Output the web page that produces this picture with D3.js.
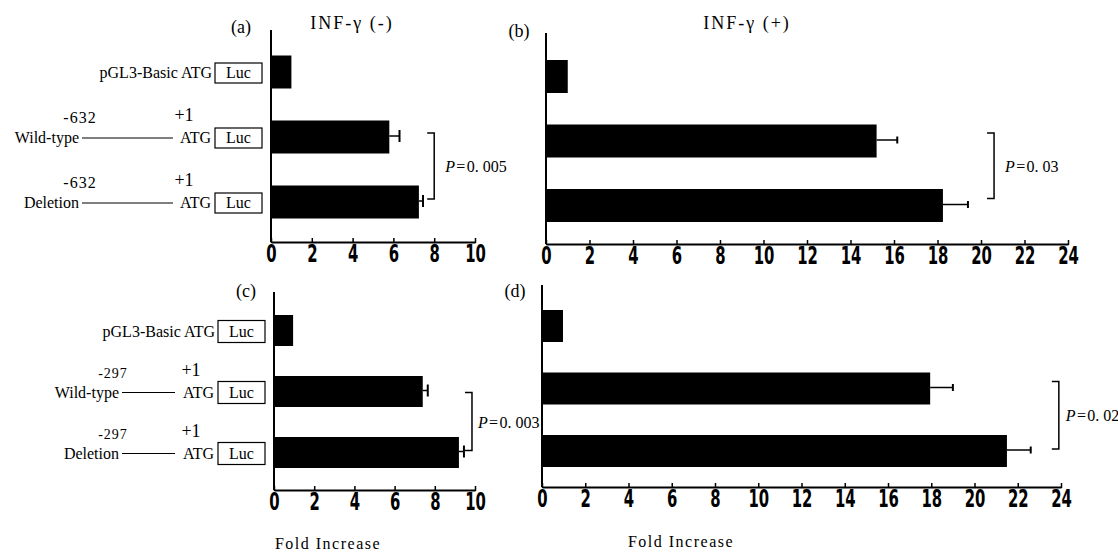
<!DOCTYPE html>
<meta charset="utf-8">
<script src="https://d3js.org/d3.v7.min.js"></script>
<style>
  body { margin: 0; background: #fff; }
  text { fill: #000; }
  .lbl { font-family: "Liberation Serif", "DejaVu Serif", serif; font-size: 16px; }
  .tick text { font-family: "Liberation Sans Narrow", "DejaVu Sans Condensed", sans-serif; font-weight: bold; font-size: 25px; }
</style>
<div id="chart"></div>
<script>

// constructs, shared by all four panels
var rows = ["pGL3-Basic", "Wild-type", "Deletion"];

// fold increase (bar) and error (+SD)
var valuesA = [1.0, 5.8, 7.25],  errorsA = [0, 0.5, 0.2];
var valuesB = [1.0, 15.2, 18.25], errorsB = [0, 0.95, 1.15];
var valuesC = [0.95, 7.4, 9.2],  errorsC = [0, 0.25, 0.25];
var valuesD = [0.97, 17.95, 21.5], errorsD = [0, 1.05, 1.1];

// tick labels
var ticksSmall = [0, 2, 4, 6, 8, 10];
var ticksLarge = [0, 2, 4, 6, 8, 10, 12, 14, 16, 18, 20, 22, 24];

// p-values between wild-type and deletion
var pValues = ["0. 005", "0. 03", "0. 003", "0. 02"];
var bracketAt = [8.0, 20.6, 9.85, 23.9];

// promoter start positions for the two construct sets
var promoterStart = ["-632", "-297"];

var svg = d3.select("#chart").append("svg")
    .attr("width", 1118)
    .attr("height", 552);

// panel layouts (pixel positions of axes)
var panels = [
  {tag: "(a)", values: valuesA, errors: errorsA, max: 10, ticks: ticksSmall, xr: [271, 475], top: 30, base: 242,
   yr: [72, 202], barH: 33, cap: 12, bracket: bracketAt[0], p: pValues[0], bOff: [-4, -3], pDx: 11, tagXY: [241, 27]},
  {tag: "(b)", values: valuesB, errors: errorsB, max: 24, ticks: ticksLarge, xr: [546, 1068], top: 33, base: 244,
   yr: [76.5, 205.5], barH: 33, cap: 7, bracket: bracketAt[1], p: pValues[1], bOff: [-8, -7], pDx: 11, tagXY: [519, 31]},
  {tag: "(c)", values: valuesC, errors: errorsC, max: 10, ticks: ticksSmall, xr: [274, 475], top: 292, base: 490,
   yr: [330.5, 452.5], barH: 31, cap: 12, bracket: bracketAt[2], p: pValues[2], bOff: [1, -2], pDx: 6, tagXY: [246, 291]},
  {tag: "(d)", values: valuesD, errors: errorsD, max: 24, ticks: ticksLarge, xr: [542, 1061], top: 285, base: 487,
   yr: [326, 451], barH: 32, cap: 7, bracket: bracketAt[3], p: pValues[3], bOff: [-7, -2], pDx: 7, tagXY: [515, 291]}
];

panels.forEach(function(pn) {
  var x = d3.scaleLinear().domain([0, pn.max]).range(pn.xr);
  var y = d3.scalePoint().domain(rows).range(pn.yr);
  var g = svg.append("g");

  // x axis
  var ax = g.append("g")
      .attr("transform", "translate(0," + pn.base + ")")
      .call(d3.axisBottom(x).tickValues(pn.ticks).tickSize(1).tickSizeOuter(0).tickPadding(1));
  ax.select(".domain").attr("stroke-width", 2);
  ax.selectAll(".tick line").attr("stroke-width", 1.5).attr("y1", -4);
  ax.selectAll(".tick text").attr("transform", "scale(0.66,1)");

  // y axis line
  g.append("line")
      .attr("x1", x(0)).attr("x2", x(0))
      .attr("y1", pn.top).attr("y2", pn.base)
      .attr("stroke", "#000").attr("stroke-width", 2);

  // bars
  g.selectAll("rect.bar")
    .data(rows)
    .enter().append("rect")
      .attr("class", "bar")
      .attr("x", x(0))
      .attr("y", function(d) { return y(d) - pn.barH / 2; })
      .attr("width", function(d, i) { return x(pn.values[i]) - x(0); })
      .attr("height", pn.barH)
      .attr("fill", "#000");

  // error bars
  var eb = g.selectAll("g.err")
    .data(rows.filter(function(d, i) { return pn.errors[i] > 0; }))
    .enter().append("g");
  eb.append("line")
      .attr("x1", function(d) { var i = rows.indexOf(d); return x(pn.values[i]); })
      .attr("x2", function(d) { var i = rows.indexOf(d); return x(pn.values[i] + pn.errors[i]); })
      .attr("y1", function(d) { return y(d) - 1; })
      .attr("y2", function(d) { return y(d) - 1; })
      .attr("stroke", "#000").attr("stroke-width", 1.5);
  eb.append("line")
      .attr("x1", function(d) { var i = rows.indexOf(d); return x(pn.values[i] + pn.errors[i]); })
      .attr("x2", function(d) { var i = rows.indexOf(d); return x(pn.values[i] + pn.errors[i]); })
      .attr("y1", function(d) { return y(d) - 1 - pn.cap / 2; })
      .attr("y2", function(d) { return y(d) - 1 + pn.cap / 2; })
      .attr("stroke", "#000").attr("stroke-width", 2);

  // significance bracket
  var bx = x(pn.bracket),
      by1 = y(rows[1]) + pn.bOff[0],
      by2 = y(rows[2]) + pn.bOff[1];
  g.append("path")
      .attr("d", "M" + (bx - 7) + "," + by1 + "H" + bx + "V" + by2 + "H" + (bx - 7))
      .attr("fill", "none").attr("stroke", "#000").attr("stroke-width", 1.5);
  var pt = g.append("text")
      .attr("class", "lbl")
      .attr("x", bx + pn.pDx)
      .attr("y", (by1 + by2) / 2 + 6)
      .style("font-size", "16px");
  pt.append("tspan").style("font-style", "italic").text("P");
  pt.append("tspan").text("\u200A=\u200A" + pn.p);

  // panel tag
  g.append("text")
      .attr("class", "lbl")
      .attr("x", pn.tagXY[0]).attr("y", pn.tagXY[1] + 6)
      .attr("text-anchor", "middle")
      .style("font-size", "18px")
      .text(pn.tag);
});

// titles
svg.append("text").attr("class", "lbl").attr("x", 352).attr("y", 29)
    .attr("text-anchor", "middle").style("font-size", "18px").style("letter-spacing", "2px").text("INF-γ (-)");
svg.append("text").attr("class", "lbl").attr("x", 747).attr("y", 29)
    .attr("text-anchor", "middle").style("font-size", "18px").style("letter-spacing", "2px").text("INF-γ (+)");

// construct diagrams left of panels (a) and (c)
var diagrams = [
  {panel: panels[0], start: promoterStart[0], lineStart: 82, lineEnd: 173, numX: 80, plusX: 184, boxH: 20, numSize: 16},
  {panel: panels[2], start: promoterStart[1], lineStart: 122, lineEnd: 175, numX: 113, plusX: 191, boxH: 22, numSize: 14}
];

diagrams.forEach(function(dg) {
  var pn = dg.panel;
  var x = d3.scaleLinear().domain([0, pn.max]).range(pn.xr);
  var y = d3.scalePoint().domain(rows).range(pn.yr);
  var boxR = x(0) - 9, boxW = 47;
  var g = svg.append("g");

  rows.forEach(function(r, i) {
    var cy = y(r) + 1;
    g.append("rect")
        .attr("x", boxR - boxW).attr("y", cy - dg.boxH / 2)
        .attr("width", boxW).attr("height", dg.boxH)
        .attr("fill", "#fff").attr("stroke", "#000").attr("stroke-width", 1.2);
    g.append("text").attr("class", "lbl")
        .attr("x", boxR - boxW / 2).attr("y", cy + 5)
        .attr("text-anchor", "middle").text("Luc");
    if (i === 0) {
      g.append("text").attr("class", "lbl")
          .attr("x", boxR - boxW - 3).attr("y", cy + 5)
          .attr("text-anchor", "end").text(r + " ATG");
    } else {
      g.append("text").attr("class", "lbl")
          .attr("x", boxR - boxW - 4).attr("y", cy + 5)
          .attr("text-anchor", "end").text("ATG");
      g.append("line")
          .attr("x1", dg.lineStart).attr("x2", dg.lineEnd)
          .attr("y1", cy).attr("y2", cy)
          .attr("stroke", "#000").attr("stroke-width", 1.2);
      g.append("text").attr("class", "lbl")
          .attr("x", dg.lineStart - 3).attr("y", cy + 5)
          .attr("text-anchor", "end").text(r);
      g.append("text").attr("class", "lbl")
          .attr("x", dg.numX).attr("y", cy - 15)
          .attr("text-anchor", "middle").style("font-size", dg.numSize + "px")
          .style("letter-spacing", "1px").text(dg.start);
      g.append("text").attr("class", "lbl")
          .attr("x", dg.plusX).attr("y", cy - 17)
          .attr("text-anchor", "middle").style("font-size", "18px").text("+1");
    }
  });
});

// shared x labels
svg.append("text").attr("class", "lbl").attr("x", 328).attr("y", 549)
    .attr("text-anchor", "middle").style("letter-spacing", "1.5px").text("Fold Increase");
svg.append("text").attr("class", "lbl").attr("x", 681).attr("y", 547)
    .attr("text-anchor", "middle").style("letter-spacing", "1.5px").text("Fold Increase");

</script>
